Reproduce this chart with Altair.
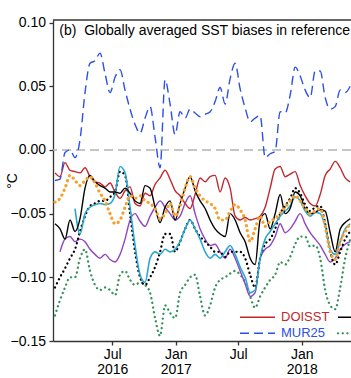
import json
import altair as alt
import pandas as pd

FONT = "Liberation Sans"
AXC = "#333333"

# sample dates (every 14.5 days)
dates = pd.date_range("2016-01-17", periods=60, freq="348h")

doisst = [-0.018, -0.021, -0.010, -0.016, -0.017, -0.018, -0.014, -0.021, -0.025, -0.026,
          -0.029, -0.026, -0.033, -0.038, -0.032, -0.029, -0.042, -0.044, -0.034, -0.036,
          -0.027, -0.022, -0.016, -0.023, -0.032, -0.036, -0.042, -0.046, -0.035, -0.022,
          -0.025, -0.021, -0.020, -0.033, -0.022, -0.030, -0.052, -0.055, -0.053, -0.055,
          -0.054, -0.052, -0.045, -0.030, -0.015, -0.013, -0.021, -0.019, -0.017, -0.028,
          -0.036, -0.042, -0.044, -0.035, -0.020, -0.015, -0.009, -0.014, -0.022, -0.025]
mur25 = [-0.024, -0.023, -0.002, 0.000, -0.006, 0.008, 0.045, 0.068, 0.070, 0.076,
         0.060, 0.045, 0.057, 0.063, 0.047, 0.032, 0.020, 0.013, 0.025, 0.034,
         0.010, -0.014, 0.055, 0.036, 0.012, 0.030, 0.025, 0.032, 0.029, 0.026,
         0.028, 0.030, 0.038, 0.049, 0.036, 0.056, 0.068, 0.048, 0.033, 0.022,
         0.025, 0.027, -0.006, -0.003, -0.001, 0.030, 0.029, 0.043, 0.065, 0.058,
         0.047, 0.041, 0.062, 0.062, 0.041, 0.032, 0.034, 0.047, 0.045, 0.050]
ostia = [-0.058, -0.062, -0.070, -0.055, -0.064, -0.054, -0.030, -0.020, -0.025, -0.028,
         -0.030, -0.033, -0.033, -0.034, -0.030, -0.034, -0.040, -0.042, -0.028, -0.030,
         -0.045, -0.057, -0.045, -0.040, -0.055, -0.042, -0.030, -0.021, -0.032, -0.040,
         -0.046, -0.055, -0.062, -0.066, -0.068, -0.050, -0.055, -0.065, -0.072, -0.085,
         -0.090, -0.055, -0.050, -0.062, -0.050, -0.035, -0.050, -0.046, -0.033, -0.036,
         -0.046, -0.050, -0.049, -0.047, -0.048, -0.065, -0.080, -0.062, -0.057, -0.054]
gamssa = [-0.130, -0.118, -0.108, -0.100, -0.100, -0.085, -0.078, -0.095, -0.106, -0.110,
          -0.108, -0.110, -0.114, -0.098, -0.095, -0.102, -0.106, -0.104, -0.106, -0.112,
          -0.132, -0.146, -0.122, -0.128, -0.132, -0.112, -0.106, -0.100, -0.098, -0.115,
          -0.130, -0.122, -0.108, -0.102, -0.100, -0.097, -0.095, -0.098, -0.104, -0.115,
          -0.124, -0.115, -0.108, -0.102, -0.098, -0.088, -0.090, -0.084, -0.074, -0.068,
          -0.068, -0.076, -0.075, -0.085, -0.110, -0.122, -0.125, -0.108, -0.085, -0.070]
cci = [None, None, None, None, -0.046, -0.066, -0.050, -0.045, -0.043, -0.042,
       -0.043, -0.042, -0.035, -0.013, -0.018, -0.045, -0.075, -0.098, -0.104, -0.085,
       -0.080, -0.082, -0.078, -0.080, -0.078, -0.072, -0.062, -0.055, -0.062, -0.070,
       -0.080, -0.085, -0.082, -0.085, -0.080, -0.075, -0.082, -0.092, -0.100, -0.112,
       -0.110, -0.085, -0.070, -0.064, -0.058, -0.052, -0.048, -0.044, -0.037, -0.040,
       -0.048, -0.052, -0.049, -0.050, -0.060, -0.078, -0.082, -0.072, -0.062, -0.058]
cmc = [None, -0.080, -0.070, -0.068, -0.072, -0.070, -0.072, -0.078, -0.082, -0.085,
       -0.082, -0.086, -0.088, -0.082, -0.070, -0.055, -0.050, -0.056, -0.060, -0.052,
       -0.045, -0.040, -0.045, -0.050, -0.055, -0.052, -0.042, -0.036, -0.050, -0.062,
       -0.070, -0.075, -0.074, -0.080, -0.085, -0.078, -0.085, -0.095, -0.105, -0.115,
       -0.112, -0.085, -0.078, -0.075, -0.068, -0.058, -0.065, -0.062, -0.056, -0.050,
       -0.058, -0.065, -0.070, -0.075, -0.082, -0.088, -0.085, -0.078, -0.074, -0.072]
mgdsst = [-0.108, -0.100, -0.093, -0.085, -0.078, -0.064, -0.052, -0.044, -0.042, -0.040,
          -0.040, -0.037, -0.033, -0.017, -0.020, -0.050, -0.080, -0.100, -0.106, -0.100,
          -0.092, -0.080, -0.066, -0.066, -0.080, -0.072, -0.062, -0.055, -0.062, -0.068,
          -0.072, -0.076, -0.080, -0.080, -0.084, -0.080, -0.080, -0.080, -0.085, -0.098,
          -0.108, -0.085, -0.074, -0.070, -0.062, -0.050, -0.044, -0.038, -0.030, -0.034,
          -0.043, -0.048, -0.045, -0.044, -0.058, -0.080, -0.090, -0.080, -0.070, -0.064]
rtg = [-0.041, -0.038, -0.030, -0.020, -0.024, -0.028, -0.024, -0.021, -0.026, -0.034,
       -0.040, -0.050, -0.058, -0.055, -0.045, -0.036, -0.038, -0.036, -0.040, -0.042,
       -0.046, -0.054, -0.050, -0.042, -0.052, -0.044, -0.030, -0.021, -0.030, -0.036,
       -0.040, -0.042, -0.046, -0.055, -0.055, -0.048, -0.043, -0.047, -0.055, -0.072,
       -0.062, -0.052, -0.060, -0.056, -0.054, -0.050, -0.045, -0.040, -0.036, -0.040,
       -0.046, -0.050, -0.048, -0.046, -0.060, -0.080, -0.086, -0.072, -0.064, -0.058]

x_domain = ["2016-01-11T05:00:00Z", "2018-05-23T19:00:00Z"]
y_domain = [-0.15, 0.102]
y_ticks = [-0.15, -0.10, -0.05, 0.0, 0.05, 0.10]
x_tick_dates = ["2016-07-01T00:00:00Z", "2017-01-01T00:00:00Z", "2017-07-01T00:00:00Z", "2018-01-01T00:00:00Z"]
x_tick_labels = ["Jul\n2016", "Jan\n2017", "Jul", "Jan\n2018"]
title_text = "(b)\u00a0\u00a0Globally averaged SST biases in reference datasets"

RED, BLUE, BLACK = "#c1272d", "#2b50e6", "#000000"
GREEN, CYAN, PURPLE, ORANGE = "#33935a", "#29a8cf", "#8e44c4", "#f5a030"

# name, values, color, width, dash, cap ; drawing order
series = [
    ("GAMSSA", gamssa, GREEN, 2.3, [0.1, 4.6], "round"),
    ("CMC", cmc, PURPLE, 1.4, None, "butt"),
    ("DOISST", doisst, RED, 1.4, None, "butt"),
    ("MGDSST", mgdsst, BLACK, 2.3, [0.1, 4.4], "round"),
    ("CCI", cci, CYAN, 1.6, None, "butt"),
    ("OSTIA", ostia, BLACK, 1.4, None, "butt"),
    ("RTG", rtg, ORANGE, 3.2, [0.1, 5.0], "round"),
    ("MUR25", mur25, BLUE, 1.4, [9, 5], "butt"),
]
legend_order = [["DOISST", "OSTIA", "CCI", "CMC"], ["MUR25", "GAMSSA", "MGDSST", "RTG"]]

rows = []
for name, vals, *_ in series:
    for d, v in zip(dates, vals):
        if v is not None:
            rows.append({"date": d.strftime("%Y-%m-%dT%H:%M:%SZ"), "series": name, "value": v})
df = pd.DataFrame(rows)

def ms(s):
    return int(pd.Timestamp(s).value // 10**6)

tick_ms = [ms(t) for t in x_tick_dates]
expr = "''"
for t, lab in reversed(list(zip(tick_ms, x_tick_labels))):
    expr = f"time(datum.value) == {t} ? {json.dumps(lab.split(chr(10)))} : {expr}"

xscale = alt.Scale(type="utc", domain=[ms(x_domain[0]), ms(x_domain[1])])
yscale = alt.Scale(domain=y_domain, nice=False, zero=False)
xaxis = alt.Axis(values=tick_ms, labelExpr=expr, grid=False, tickSize=4, tickColor=AXC,
                 tickWidth=1.3, domainColor=AXC, domainWidth=1.3, labelFont=FONT,
                 labelFontSize=14, labelColor="black", labelPadding=2, labelLineHeight=15,
                 labelFlush=False, labelOverlap=False, title=None)
yaxis = alt.Axis(values=y_ticks, labelExpr="replace(format(datum.value, '.2f'), '-', '\u2212')",
                 grid=False, tickSize=4, tickColor=AXC,
                 tickWidth=1.3, domainColor=AXC, domainWidth=1.3, labelFont=FONT,
                 labelFontSize=14, labelColor="black", labelPadding=3.5, title="°C",
                 titleFont=FONT, titleFontSize=14, titleFontWeight="normal", titleColor="black",
                 titleX=-41, titleY=160.5, titleAlign="center", titleBaseline="middle")

X = alt.X("date:T", scale=xscale, axis=xaxis)
Y = alt.Y("value:Q", scale=yscale, axis=yaxis)

base = alt.Chart(df)
layers = []
zero = alt.Chart(pd.DataFrame({"value": [0.0]})).mark_rule(
    color="#b3b3b3", strokeWidth=1.5, strokeDash=[9, 5]).encode(y=Y)
layers.append(zero)

style = {}
for name, vals, color, width, dash, cap in series:
    kw = dict(color=color, strokeWidth=width, strokeCap=cap, interpolate="monotone", clip=True)
    if dash is not None:
        kw["strokeDash"] = dash
    style[name] = kw
    layers.append(base.transform_filter(alt.datum.series == name).mark_line(**kw).encode(x=X, y=Y))

# top frame line
layers.append(alt.Chart(pd.DataFrame({"a": [0]})).mark_rule(color=AXC, strokeWidth=1.3).encode(
    x=alt.value(0), x2=alt.value(400), y=alt.value(0)))

# panel title
layers.append(alt.Chart(pd.DataFrame({"t": [title_text]})).mark_text(
    align="left", baseline="alphabetic", font=FONT, fontSize=14, color="black").encode(
    x=alt.value(6.3), y=alt.value(15), text="t:N"))

# legend
col_x = [187, 285, 383, 481]
row_y = [297.3, 313.3]
for r, names in enumerate(legend_order):
    for c, name in enumerate(names):
        kw = {k: v for k, v in style[name].items() if k not in ("interpolate", "clip")}
        lx, ly = col_x[c], row_y[r]
        layers.append(alt.Chart(pd.DataFrame({"a": [0]})).mark_rule(**kw).encode(
            x=alt.value(lx), x2=alt.value(lx + 35), y=alt.value(ly)))
        layers.append(alt.Chart(pd.DataFrame({"t": [name]})).mark_text(
            align="left", baseline="middle", font=FONT, fontSize=13,
            color=style[name]["color"]).encode(
            x=alt.value(lx + 41), y=alt.value(ly), text="t:N"))

chart = alt.layer(*layers).properties(
    width=298, height=321,
    padding={"left": 53, "top": 20, "right": 0, "bottom": 37},
    autosize=alt.AutoSizeParams(type="none"),
).configure_view(stroke=None)

chart.save("out.html", embed_options={"renderer": "svg", "actions": False})
